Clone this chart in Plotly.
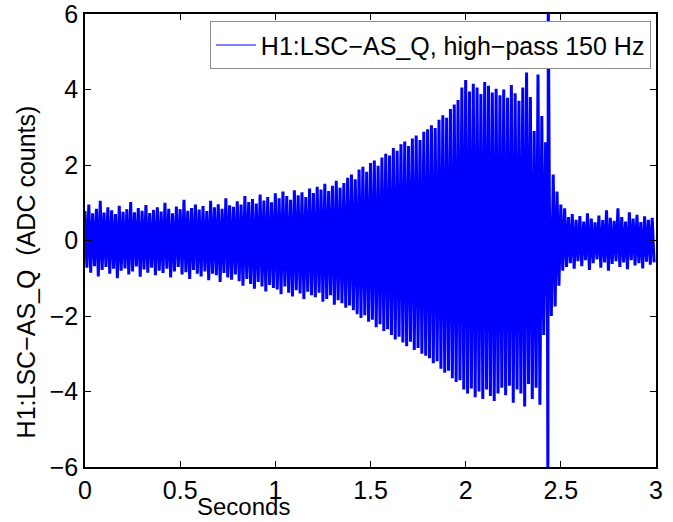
import numpy as np
from plotly import graph_objects as go

# Signal envelope (ADC counts)
# positive excursions, sampled every 20 ms starting at 0.00 s
peak_vals = [
    0.78, 0.95, 0.72, 0.84, 1.05, 0.74, 0.88, 0.80, 0.70, 0.92,
    0.76, 0.83, 1.02, 0.75, 0.86, 0.79, 0.94, 0.73, 0.81, 0.88,
    0.77, 1.00, 0.84, 0.72, 0.90, 0.83, 1.08, 0.79, 0.86, 0.95,
    0.82, 0.91, 0.78, 1.05, 0.88, 0.96, 0.84, 1.12, 0.93, 0.89,
    1.04, 0.95, 1.18, 1.02, 1.10, 0.98, 1.22, 1.06, 1.15, 1.01,
    1.25, 1.12, 1.30, 1.18, 1.08, 1.33, 1.20, 1.28, 1.15, 1.38,
    1.26, 1.42, 1.35, 1.50, 1.31, 1.45, 1.58, 1.40, 1.52, 1.66,
    1.75, 1.62, 1.88, 1.95, 1.82, 2.05, 2.12, 1.98, 2.20, 2.30,
    2.25, 2.45, 2.38, 2.55, 2.62, 2.50, 2.70, 2.78, 2.66, 2.88,
    2.95, 3.05, 2.98, 3.20, 3.32, 3.25, 3.48, 3.60, 3.72, 4.05,
    4.25, 3.95, 4.15, 4.05, 3.88, 4.20, 4.10, 3.92, 4.02, 3.85,
    4.00, 3.78, 4.12, 3.90, 3.70, 4.05, 4.45, 3.80, 2.90, 4.40,
    3.30, 2.60, 0.90, 1.75, 1.30, 0.95, 0.85, 0.62, 0.70, 0.55,
    0.65, 0.50, 0.72, 0.58, 0.48, 0.66, 0.54, 0.80, 0.60, 0.52,
    0.85, 0.62, 0.50, 0.75, 0.58, 0.68, 0.49, 0.64, 0.55, 0.60,
]
# negative excursions, sampled every 20 ms starting at 0.01 s
trough_vals = [
    -0.72, -0.85, -0.68, -0.95, -0.78, -0.70, -0.88, -0.75, -1.00, -0.80,
    -0.74, -0.90, -0.82, -0.69, -0.96, -0.77, -0.85, -0.72, -0.92, -0.80,
    -0.86, -0.75, -0.98, -0.82, -0.70, -0.90, -0.84, -1.02, -0.78, -0.88,
    -0.95, -0.82, -1.05, -0.88, -0.92, -1.10, -0.86, -0.98, -1.04, -0.90,
    -1.08, -1.20, -1.02, -1.15, -1.28, -1.10, -1.22, -1.35, -1.18, -1.26,
    -1.30, -1.42, -1.22, -1.38, -1.48, -1.32, -1.40, -1.55, -1.36, -1.45,
    -1.50, -1.38, -1.62, -1.55, -1.45, -1.70, -1.58, -1.66, -1.78, -1.72,
    -1.85, -1.95, -2.05, -1.98, -2.15, -2.10, -2.30, -2.22, -2.40, -2.35,
    -2.50, -2.62, -2.55, -2.70, -2.80, -2.68, -2.90, -2.85, -3.00, -3.05,
    -3.12, -3.25, -3.20, -3.40, -3.50, -3.45, -3.65, -3.75, -3.70, -3.95,
    -4.05, -3.92, -4.15, -4.00, -4.20, -3.95, -4.12, -4.25, -4.05, -3.90,
    -4.10, -3.85, -4.30, -3.95, -4.05, -4.40, -3.80, -4.20, -3.90, -4.35,
    -2.50, -2.40, -2.00, -1.75, -1.20, -0.80, -0.70, -0.60, -0.75, -0.55,
    -0.68, -0.52, -0.78, -0.60, -0.50, -0.72, -0.58, -0.80, -0.62, -0.55,
    -0.70, -0.58, -0.76, -0.52, -0.66, -0.60, -0.74, -0.56, -0.64, -0.58,
]
# the glitch near 2.43 s that saturates the plot
glitch_t = [2.432, 2.434]
glitch_vals = [-6.5, 6.5]

sample_step = 0.02
peak_t = np.round(np.arange(len(peak_vals)) * sample_step, 3)
trough_t = np.round(np.arange(len(trough_vals)) * sample_step + sample_step / 2, 3)

t = np.concatenate([peak_t, trough_t, glitch_t])
v = np.concatenate([peak_vals, trough_vals, glitch_vals])
order = np.argsort(t, kind="stable")
t, v = t[order], v[order]

trace_name = "H1:LSC\u2212AS_Q, high\u2212pass 150 Hz"
font = dict(family="Liberation Sans, Arial, Helvetica, sans-serif", size=25, color="black")

fig = go.Figure()
fig.add_trace(go.Scatter(
    x=t, y=v, mode="lines",
    line=dict(color="#0000ff", width=3, simplify=False),
    name=trace_name, showlegend=False,
))
# thin line just for the legend key
fig.add_trace(go.Scatter(
    x=[None], y=[None], mode="lines",
    line=dict(color="#0000ff", width=1.2),
    name=trace_name,
))

axis_style = dict(
    showgrid=False, zeroline=False, automargin=False,
    showline=True, linecolor="black", linewidth=1.5,
    ticks="inside", ticklen=6, tickwidth=1.2, tickcolor="black",
    mirror="ticks", tickfont=font, ticklabeloverflow="allow",
)

fig.update_layout(
    width=673, height=522,
    margin=dict(l=85, r=17, t=14, b=55),
    paper_bgcolor="white", plot_bgcolor="white",
    font=font,
    showlegend=True,
    legend=dict(
        x=0.991, y=0.984, xanchor="right", yanchor="top",
        bgcolor="white", bordercolor="#8c8c8c", borderwidth=1,
        font=font, itemwidth=40, tracegroupgap=0,
    ),
    xaxis=dict(range=[0, 3], tickvals=[0, 0.5, 1, 1.5, 2, 2.5, 3], **axis_style),
    yaxis=dict(range=[-6, 6], tickvals=[-6, -4, -2, 0, 2, 4, 6], **axis_style),
    annotations=[
        dict(text="Seconds", xref="paper", yref="paper", x=0.277, y=-0.088,
             showarrow=False, font=dict(font, size=24),
             xanchor="center", yanchor="middle"),
        dict(text="H1:LSC\u2212AS_Q  (ADC counts)", xref="paper", yref="paper",
             x=-0.103, y=0.43, textangle=-90, showarrow=False, font=font,
             xanchor="center", yanchor="middle"),
    ],
)

# drop the browser's default 8px body margin so the figure sits at the page corner
fig.write_html("out.html", config={"displayModeBar": False},
               post_script="document.body.style.margin = '0';")
